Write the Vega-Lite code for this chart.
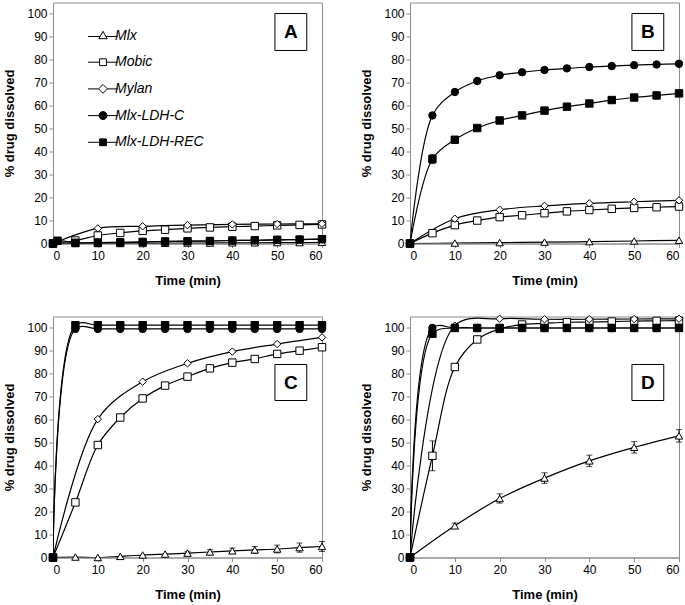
{
"$schema": "https://vega.github.io/schema/vega-lite/v6.json",
"padding": {"left": 3, "top": 1.5, "right": 2, "bottom": 2},
"background": "white",
"config": {
  "font": "Liberation Sans",
  "view": {"stroke": "#8c8c8c", "strokeWidth": 1},
  "axis": {"grid": false, "labelOverlap": false, "domainColor": "#8c8c8c", "tickColor": "#8c8c8c", "tickSize": 4, "labelFont": "Liberation Sans", "labelFontSize": 12, "labelColor": "#000", "titleFont": "Liberation Sans", "titleFontSize": 13, "titleFontWeight": "bold", "titleColor": "#000"}
},
"data": {"values": [
{"p":"A","s":"Mlx","t":0,"v":0},{"p":"A","s":"Mlx","t":5,"v":0},{"p":"A","s":"Mlx","t":10,"v":0},{"p":"A","s":"Mlx","t":15,"v":0},{"p":"A","s":"Mlx","t":20,"v":0},{"p":"A","s":"Mlx","t":25,"v":0.1},{"p":"A","s":"Mlx","t":30,"v":0.2},{"p":"A","s":"Mlx","t":35,"v":0.2},{"p":"A","s":"Mlx","t":40,"v":0.3},{"p":"A","s":"Mlx","t":45,"v":0.3},{"p":"A","s":"Mlx","t":50,"v":0.4},{"p":"A","s":"Mlx","t":55,"v":0.4},{"p":"A","s":"Mlx","t":60,"v":0.5},
{"p":"A","s":"Mobic","t":0,"v":0},{"p":"A","s":"Mobic","t":5,"v":1.3},{"p":"A","s":"Mobic","t":10,"v":3.5},{"p":"A","s":"Mobic","t":15,"v":4.6},{"p":"A","s":"Mobic","t":20,"v":5.5},{"p":"A","s":"Mobic","t":25,"v":6},{"p":"A","s":"Mobic","t":30,"v":6.6},{"p":"A","s":"Mobic","t":35,"v":7},{"p":"A","s":"Mobic","t":40,"v":7.3},{"p":"A","s":"Mobic","t":45,"v":7.6},{"p":"A","s":"Mobic","t":50,"v":7.9},{"p":"A","s":"Mobic","t":55,"v":8.1},{"p":"A","s":"Mobic","t":60,"v":8.3},
{"p":"A","s":"Mylan","t":0,"v":0},{"p":"A","s":"Mylan","t":10,"v":6.6},{"p":"A","s":"Mylan","t":20,"v":7.5},{"p":"A","s":"Mylan","t":30,"v":8},{"p":"A","s":"Mylan","t":40,"v":8.3},{"p":"A","s":"Mylan","t":50,"v":8.5},{"p":"A","s":"Mylan","t":60,"v":8.6},
{"p":"A","s":"Mlx-LDH-REC","t":0,"v":0},{"p":"A","s":"Mlx-LDH-REC","t":1,"v":1.2},{"p":"A","s":"Mlx-LDH-REC","t":5,"v":0.3},{"p":"A","s":"Mlx-LDH-REC","t":10,"v":0.4},{"p":"A","s":"Mlx-LDH-REC","t":15,"v":0.5},{"p":"A","s":"Mlx-LDH-REC","t":20,"v":0.7},{"p":"A","s":"Mlx-LDH-REC","t":25,"v":0.9},{"p":"A","s":"Mlx-LDH-REC","t":30,"v":1},{"p":"A","s":"Mlx-LDH-REC","t":35,"v":1.1},{"p":"A","s":"Mlx-LDH-REC","t":40,"v":1.3},{"p":"A","s":"Mlx-LDH-REC","t":45,"v":1.4},{"p":"A","s":"Mlx-LDH-REC","t":50,"v":1.6},{"p":"A","s":"Mlx-LDH-REC","t":55,"v":1.7},{"p":"A","s":"Mlx-LDH-REC","t":60,"v":1.9},
{"p":"A","s":"Mlx-LDH-C","t":0,"v":0},{"p":"A","s":"Mlx-LDH-C","t":5,"v":0.2},{"p":"A","s":"Mlx-LDH-C","t":10,"v":0.3},{"p":"A","s":"Mlx-LDH-C","t":15,"v":0.4},{"p":"A","s":"Mlx-LDH-C","t":20,"v":0.6},{"p":"A","s":"Mlx-LDH-C","t":25,"v":0.8},{"p":"A","s":"Mlx-LDH-C","t":30,"v":1},{"p":"A","s":"Mlx-LDH-C","t":35,"v":1.1},{"p":"A","s":"Mlx-LDH-C","t":40,"v":1.3},{"p":"A","s":"Mlx-LDH-C","t":45,"v":1.4},{"p":"A","s":"Mlx-LDH-C","t":50,"v":1.6},{"p":"A","s":"Mlx-LDH-C","t":55,"v":1.7},{"p":"A","s":"Mlx-LDH-C","t":60,"v":1.9},

{"p":"B","s":"Mlx","t":0,"v":0},{"p":"B","s":"Mlx","t":10,"v":0.2},{"p":"B","s":"Mlx","t":20,"v":0.4},{"p":"B","s":"Mlx","t":30,"v":0.6},{"p":"B","s":"Mlx","t":40,"v":0.8},{"p":"B","s":"Mlx","t":50,"v":1.1},{"p":"B","s":"Mlx","t":60,"v":1.4},
{"p":"B","s":"Mobic","t":0,"v":0},{"p":"B","s":"Mobic","t":5,"v":4.5},{"p":"B","s":"Mobic","t":10,"v":8},{"p":"B","s":"Mobic","t":15,"v":10},{"p":"B","s":"Mobic","t":20,"v":11.5},{"p":"B","s":"Mobic","t":25,"v":12.3},{"p":"B","s":"Mobic","t":30,"v":13.2},{"p":"B","s":"Mobic","t":35,"v":14},{"p":"B","s":"Mobic","t":40,"v":14.6},{"p":"B","s":"Mobic","t":45,"v":15.1},{"p":"B","s":"Mobic","t":50,"v":15.5},{"p":"B","s":"Mobic","t":55,"v":15.8},{"p":"B","s":"Mobic","t":60,"v":16.1},
{"p":"B","s":"Mylan","t":0,"v":0},{"p":"B","s":"Mylan","t":10,"v":10.8},{"p":"B","s":"Mylan","t":20,"v":14.7},{"p":"B","s":"Mylan","t":30,"v":16.4},{"p":"B","s":"Mylan","t":40,"v":17.5},{"p":"B","s":"Mylan","t":50,"v":18.2},{"p":"B","s":"Mylan","t":60,"v":18.8},
{"p":"B","s":"Mlx-LDH-REC","t":0,"v":0},{"p":"B","s":"Mlx-LDH-REC","t":5,"v":36.8,"e":2},{"p":"B","s":"Mlx-LDH-REC","t":10,"v":45.2},{"p":"B","s":"Mlx-LDH-REC","t":15,"v":50.3},{"p":"B","s":"Mlx-LDH-REC","t":20,"v":53.6},{"p":"B","s":"Mlx-LDH-REC","t":25,"v":55.8},{"p":"B","s":"Mlx-LDH-REC","t":30,"v":57.9},{"p":"B","s":"Mlx-LDH-REC","t":35,"v":59.6},{"p":"B","s":"Mlx-LDH-REC","t":40,"v":61},{"p":"B","s":"Mlx-LDH-REC","t":45,"v":62.5},{"p":"B","s":"Mlx-LDH-REC","t":50,"v":63.6},{"p":"B","s":"Mlx-LDH-REC","t":55,"v":64.5},{"p":"B","s":"Mlx-LDH-REC","t":60,"v":65.4},
{"p":"B","s":"Mlx-LDH-C","t":0,"v":0},{"p":"B","s":"Mlx-LDH-C","t":5,"v":55.8},{"p":"B","s":"Mlx-LDH-C","t":10,"v":66},{"p":"B","s":"Mlx-LDH-C","t":15,"v":70.8},{"p":"B","s":"Mlx-LDH-C","t":20,"v":73.3},{"p":"B","s":"Mlx-LDH-C","t":25,"v":74.6},{"p":"B","s":"Mlx-LDH-C","t":30,"v":75.6},{"p":"B","s":"Mlx-LDH-C","t":35,"v":76.3},{"p":"B","s":"Mlx-LDH-C","t":40,"v":76.9},{"p":"B","s":"Mlx-LDH-C","t":45,"v":77.3},{"p":"B","s":"Mlx-LDH-C","t":50,"v":77.7},{"p":"B","s":"Mlx-LDH-C","t":55,"v":78},{"p":"B","s":"Mlx-LDH-C","t":60,"v":78.3},

{"p":"C","s":"Mlx","t":0,"v":0},{"p":"C","s":"Mlx","t":5,"v":0.2},{"p":"C","s":"Mlx","t":10,"v":0},{"p":"C","s":"Mlx","t":15,"v":0.5},{"p":"C","s":"Mlx","t":20,"v":1.1},{"p":"C","s":"Mlx","t":25,"v":1.5},{"p":"C","s":"Mlx","t":30,"v":1.9,"e":0.8},{"p":"C","s":"Mlx","t":35,"v":2.4,"e":1},{"p":"C","s":"Mlx","t":40,"v":2.9,"e":1.2},{"p":"C","s":"Mlx","t":45,"v":3.3,"e":1.5},{"p":"C","s":"Mlx","t":50,"v":3.7,"e":1.7},{"p":"C","s":"Mlx","t":55,"v":4.3,"e":2},{"p":"C","s":"Mlx","t":60,"v":4.8,"e":2.2},
{"p":"C","s":"Mobic","t":0,"v":0},{"p":"C","s":"Mobic","t":5,"v":24},{"p":"C","s":"Mobic","t":10,"v":49},{"p":"C","s":"Mobic","t":15,"v":61},{"p":"C","s":"Mobic","t":20,"v":69.3},{"p":"C","s":"Mobic","t":25,"v":74.9},{"p":"C","s":"Mobic","t":30,"v":78.8},{"p":"C","s":"Mobic","t":35,"v":82.4},{"p":"C","s":"Mobic","t":40,"v":84.9},{"p":"C","s":"Mobic","t":45,"v":86.5},{"p":"C","s":"Mobic","t":50,"v":88.7},{"p":"C","s":"Mobic","t":55,"v":90.1},{"p":"C","s":"Mobic","t":60,"v":91.6},
{"p":"C","s":"Mylan","t":0,"v":0},{"p":"C","s":"Mylan","t":10,"v":60.3},{"p":"C","s":"Mylan","t":20,"v":76.6},{"p":"C","s":"Mylan","t":30,"v":84.6},{"p":"C","s":"Mylan","t":40,"v":89.7},{"p":"C","s":"Mylan","t":50,"v":93},{"p":"C","s":"Mylan","t":60,"v":95.9},
{"p":"C","s":"Mlx-LDH-REC","t":0,"v":0},{"p":"C","s":"Mlx-LDH-REC","t":5,"v":101.2},{"p":"C","s":"Mlx-LDH-REC","t":10,"v":101.2},{"p":"C","s":"Mlx-LDH-REC","t":15,"v":101.2},{"p":"C","s":"Mlx-LDH-REC","t":20,"v":101.2},{"p":"C","s":"Mlx-LDH-REC","t":25,"v":101.2},{"p":"C","s":"Mlx-LDH-REC","t":30,"v":101.2},{"p":"C","s":"Mlx-LDH-REC","t":35,"v":101.2},{"p":"C","s":"Mlx-LDH-REC","t":40,"v":101.2},{"p":"C","s":"Mlx-LDH-REC","t":45,"v":101.2},{"p":"C","s":"Mlx-LDH-REC","t":50,"v":101.2},{"p":"C","s":"Mlx-LDH-REC","t":55,"v":101.2},{"p":"C","s":"Mlx-LDH-REC","t":60,"v":101.2},
{"p":"C","s":"Mlx-LDH-C","t":0,"v":0},{"p":"C","s":"Mlx-LDH-C","t":5,"v":99.6},{"p":"C","s":"Mlx-LDH-C","t":10,"v":99.6},{"p":"C","s":"Mlx-LDH-C","t":15,"v":99.6},{"p":"C","s":"Mlx-LDH-C","t":20,"v":99.6},{"p":"C","s":"Mlx-LDH-C","t":25,"v":99.6},{"p":"C","s":"Mlx-LDH-C","t":30,"v":99.6},{"p":"C","s":"Mlx-LDH-C","t":35,"v":99.6},{"p":"C","s":"Mlx-LDH-C","t":40,"v":99.6},{"p":"C","s":"Mlx-LDH-C","t":45,"v":99.6},{"p":"C","s":"Mlx-LDH-C","t":50,"v":99.6},{"p":"C","s":"Mlx-LDH-C","t":55,"v":99.6},{"p":"C","s":"Mlx-LDH-C","t":60,"v":99.6},

{"p":"D","s":"Mlx","t":0,"v":0},{"p":"D","s":"Mlx","t":10,"v":13.8,"e":1.2},{"p":"D","s":"Mlx","t":20,"v":25.7,"e":2},{"p":"D","s":"Mlx","t":30,"v":34.6,"e":2.3},{"p":"D","s":"Mlx","t":40,"v":42.1,"e":2.5},{"p":"D","s":"Mlx","t":50,"v":48,"e":2.5},{"p":"D","s":"Mlx","t":60,"v":53,"e":2.7},
{"p":"D","s":"Mobic","t":0,"v":0},{"p":"D","s":"Mobic","t":5,"v":44.3,"e":6.5},{"p":"D","s":"Mobic","t":10,"v":83},{"p":"D","s":"Mobic","t":15,"v":95},{"p":"D","s":"Mobic","t":20,"v":99.6},{"p":"D","s":"Mobic","t":25,"v":101.5},{"p":"D","s":"Mobic","t":30,"v":102},{"p":"D","s":"Mobic","t":35,"v":102.5},{"p":"D","s":"Mobic","t":40,"v":102.6},{"p":"D","s":"Mobic","t":45,"v":102.8},{"p":"D","s":"Mobic","t":50,"v":103},{"p":"D","s":"Mobic","t":55,"v":103.1},{"p":"D","s":"Mobic","t":60,"v":103.2},
{"p":"D","s":"Mylan","t":0,"v":0},{"p":"D","s":"Mylan","t":10,"v":101},{"p":"D","s":"Mylan","t":20,"v":104},{"p":"D","s":"Mylan","t":30,"v":103.8},{"p":"D","s":"Mylan","t":40,"v":103.8},{"p":"D","s":"Mylan","t":50,"v":103.9},{"p":"D","s":"Mylan","t":60,"v":104},
{"p":"D","s":"Mlx-LDH-REC","t":0,"v":0},{"p":"D","s":"Mlx-LDH-REC","t":5,"v":97.5},{"p":"D","s":"Mlx-LDH-REC","t":10,"v":100},{"p":"D","s":"Mlx-LDH-REC","t":15,"v":100},{"p":"D","s":"Mlx-LDH-REC","t":20,"v":100},{"p":"D","s":"Mlx-LDH-REC","t":25,"v":100},{"p":"D","s":"Mlx-LDH-REC","t":30,"v":100},{"p":"D","s":"Mlx-LDH-REC","t":35,"v":100},{"p":"D","s":"Mlx-LDH-REC","t":40,"v":100},{"p":"D","s":"Mlx-LDH-REC","t":45,"v":100},{"p":"D","s":"Mlx-LDH-REC","t":50,"v":100},{"p":"D","s":"Mlx-LDH-REC","t":55,"v":100},{"p":"D","s":"Mlx-LDH-REC","t":60,"v":100},
{"p":"D","s":"Mlx-LDH-C","t":0,"v":0},{"p":"D","s":"Mlx-LDH-C","t":5,"v":100},{"p":"D","s":"Mlx-LDH-C","t":10,"v":100},{"p":"D","s":"Mlx-LDH-C","t":15,"v":100},{"p":"D","s":"Mlx-LDH-C","t":20,"v":100},{"p":"D","s":"Mlx-LDH-C","t":25,"v":100},{"p":"D","s":"Mlx-LDH-C","t":30,"v":100},{"p":"D","s":"Mlx-LDH-C","t":35,"v":100},{"p":"D","s":"Mlx-LDH-C","t":40,"v":100},{"p":"D","s":"Mlx-LDH-C","t":45,"v":100},{"p":"D","s":"Mlx-LDH-C","t":50,"v":100},{"p":"D","s":"Mlx-LDH-C","t":55,"v":100},{"p":"D","s":"Mlx-LDH-C","t":60,"v":100}
]},
"spacing": 24,
"resolve": {"scale": {"shape": "independent", "fill": "independent", "stroke": "independent"}, "legend": {"shape": "independent", "fill": "independent", "stroke": "independent"}},
"vconcat": [
{"hconcat": [
 {"width": 269, "height": 241,
  "resolve": {"scale": {"shape": "independent", "fill": "independent", "stroke": "independent"}, "legend": {"shape": "independent", "fill": "independent", "stroke": "independent"}},
  "layer": [
   {"transform": [{"filter": "datum.p === 'A'"}],
    "mark": {"type": "line", "interpolate": "catmull-rom", "color": "#000", "strokeWidth": 1.2, "clip": true},
    "encoding": {
     "x": {"field": "t", "type": "quantitative", "scale": {"domain": [0, 60], "nice": false}, "axis": {"values": [0,10,20,30,40,50,60], "tickCount": 7, "labelOverlap": false, "title": "Time (min)", "labelPadding": 3, "titlePadding": 13}},
     "y": {"field": "v", "type": "quantitative", "scale": {"domain": [0, 105], "nice": false}, "axis": {"values": [0,10,20,30,40,50,60,70,80,90,100], "tickCount": 11, "labelOverlap": false, "title": "% drug dissolved", "labelPadding": 2, "titlePadding": 10}},
     "detail": {"field": "s"}}},
   {"transform": [{"filter": "datum.p === 'A'"}],
    "mark": {"type": "point", "size": 55, "stroke": "#000", "strokeWidth": 1, "opacity": 1},
    "encoding": {
     "x": {"field": "t", "type": "quantitative"},
     "y": {"field": "v", "type": "quantitative"},
     "shape": {"field": "s", "type": "nominal", "scale": {"domain": ["Mlx","Mobic","Mylan","Mlx-LDH-C","Mlx-LDH-REC"], "range": ["triangle-up","square","diamond","circle","square"]}, "legend": null},
     "fill": {"field": "s", "type": "nominal", "scale": {"domain": ["Mlx","Mobic","Mylan","Mlx-LDH-C","Mlx-LDH-REC"], "range": ["#fff","#fff","#fff","#000","#000"]}, "legend": null}}},
   {"transform": [{"filter": "datum.p === 'A'"}],
    "mark": {"type": "point", "size": 0, "strokeWidth": 1, "opacity": 1},
    "encoding": {
     "x": {"field": "t", "type": "quantitative"},
     "y": {"field": "v", "type": "quantitative"},
     "shape": {"field": "s", "type": "nominal", "scale": {"domain": ["Mlx","Mobic","Mylan","Mlx-LDH-C","Mlx-LDH-REC"], "range": ["M-3.75,0.25H-0.74M0.74,0.25H3.75M0,-1.05L1.05,0.8H-1.05Z","M-3.75,0H-0.85M0.85,0H3.75M-0.85,-0.85H0.85V0.85H-0.85Z","M-3.75,0H-1.1M1.1,0H3.75M0,-1.1L1.1,0L0,1.1L-1.1,0Z","M-3.75,0H-1M1,0H3.75M-1,0A1,1,0,1,0,1,0A1,1,0,1,0,-1,0Z","M-3.75,0H-0.85M0.85,0H3.75M-0.85,-0.85H0.85V0.85H-0.85Z"]},
      "legend": {"title": null, "orient": "none", "legendX": 43, "legendY": 26, "padding": 0, "labelFont": "Liberation Sans", "labelFontSize": 14, "labelFontStyle": "italic", "labelColor": "#000", "symbolSize": 64, "symbolStrokeWidth": 1, "symbolOpacity": 1, "labelOffset": 5, "rowPadding": 12.7}},
     "fill": {"field": "s", "type": "nominal", "scale": {"domain": ["Mlx","Mobic","Mylan","Mlx-LDH-C","Mlx-LDH-REC"], "range": ["#fff","#fff","#fff","#000","#000"]},
      "legend": {"title": null, "orient": "none", "legendX": 43, "legendY": 26, "padding": 0, "labelFont": "Liberation Sans", "labelFontSize": 14, "labelFontStyle": "italic", "labelColor": "#000", "symbolSize": 64, "symbolStrokeWidth": 1, "symbolOpacity": 1, "labelOffset": 5, "rowPadding": 12.7}},
     "stroke": {"field": "s", "type": "nominal", "scale": {"domain": ["Mlx","Mobic","Mylan","Mlx-LDH-C","Mlx-LDH-REC"], "range": ["#000","#000","#000","#000","#000"]},
      "legend": {"title": null, "orient": "none", "legendX": 43, "legendY": 26, "padding": 0, "labelFont": "Liberation Sans", "labelFontSize": 14, "labelFontStyle": "italic", "labelColor": "#000", "symbolSize": 64, "symbolStrokeWidth": 1, "symbolOpacity": 1, "labelOffset": 5, "rowPadding": 12.7}}}},
   {"data": {"values": [{"lab": "A"}]},
    "mark": {"type": "rect", "fill": "#fff", "stroke": "#000", "strokeWidth": 1},
    "encoding": {"x": {"datum": 49.5, "type": "quantitative"}, "x2": {"datum": 56.6}, "y": {"datum": 100.2, "type": "quantitative"}, "y2": {"datum": 84.1}}},
   {"data": {"values": [{"lab": "A"}]},
    "mark": {"type": "text", "font": "Liberation Sans", "fontSize": 19, "fontWeight": "bold", "color": "#000", "baseline": "middle", "align": "center"},
    "encoding": {"x": {"datum": 53.05, "type": "quantitative"}, "y": {"datum": 92.2, "type": "quantitative"}, "text": {"field": "lab"}}}
  ]},
 {"width": 269, "height": 241,
  "layer": [
   {"transform": [{"filter": "datum.p === 'B'"}],
    "mark": {"type": "line", "interpolate": "catmull-rom", "color": "#000", "strokeWidth": 1.2, "clip": true},
    "encoding": {
     "x": {"field": "t", "type": "quantitative", "scale": {"domain": [0, 60], "nice": false}, "axis": {"values": [0,10,20,30,40,50,60], "tickCount": 7, "labelOverlap": false, "title": "Time (min)", "labelPadding": 3, "titlePadding": 13}},
     "y": {"field": "v", "type": "quantitative", "scale": {"domain": [0, 105], "nice": false}, "axis": {"values": [0,10,20,30,40,50,60,70,80,90,100], "tickCount": 11, "labelOverlap": false, "title": "% drug dissolved", "labelPadding": 2, "titlePadding": 10}},
     "detail": {"field": "s"}}},
   {"transform": [{"filter": "datum.p === 'B' && datum.e > 0"}],
    "mark": {"type": "errorbar", "ticks": {"size": 6, "color": "#000"}, "rule": {"color": "#000"}},
    "encoding": {"x": {"field": "t", "type": "quantitative", "title": "Time (min)"}, "y": {"field": "v", "type": "quantitative", "title": "% drug dissolved"}, "yError": {"field": "e"}}},
   {"transform": [{"filter": "datum.p === 'B'"}],
    "mark": {"type": "point", "size": 55, "stroke": "#000", "strokeWidth": 1, "opacity": 1},
    "encoding": {
     "x": {"field": "t", "type": "quantitative"},
     "y": {"field": "v", "type": "quantitative"},
     "shape": {"field": "s", "type": "nominal", "scale": {"domain": ["Mlx","Mobic","Mylan","Mlx-LDH-C","Mlx-LDH-REC"], "range": ["triangle-up","square","diamond","circle","square"]}, "legend": null},
     "fill": {"field": "s", "type": "nominal", "scale": {"domain": ["Mlx","Mobic","Mylan","Mlx-LDH-C","Mlx-LDH-REC"], "range": ["#fff","#fff","#fff","#000","#000"]}, "legend": null}}},
   {"data": {"values": [{"lab": "B"}]},
    "mark": {"type": "rect", "fill": "#fff", "stroke": "#000", "strokeWidth": 1},
    "encoding": {"x": {"datum": 49.5, "type": "quantitative"}, "x2": {"datum": 56.6}, "y": {"datum": 100.2, "type": "quantitative"}, "y2": {"datum": 84.1}}},
   {"data": {"values": [{"lab": "B"}]},
    "mark": {"type": "text", "font": "Liberation Sans", "fontSize": 19, "fontWeight": "bold", "color": "#000", "baseline": "middle", "align": "center"},
    "encoding": {"x": {"datum": 53.05, "type": "quantitative"}, "y": {"datum": 92.2, "type": "quantitative"}, "text": {"field": "lab"}}}
  ]}
 ],
 "spacing": 88, "bounds": "flush",
 "resolve": {"scale": {"shape": "independent", "fill": "independent", "stroke": "independent"}, "legend": {"shape": "independent", "fill": "independent", "stroke": "independent"}}},
{"hconcat": [
 {"width": 269, "height": 241,
  "layer": [
   {"transform": [{"filter": "datum.p === 'C'"}],
    "mark": {"type": "line", "interpolate": "catmull-rom", "color": "#000", "strokeWidth": 1.2, "clip": true},
    "encoding": {
     "x": {"field": "t", "type": "quantitative", "scale": {"domain": [0, 60], "nice": false}, "axis": {"values": [0,10,20,30,40,50,60], "tickCount": 7, "labelOverlap": false, "title": "Time (min)", "labelPadding": 3, "titlePadding": 13}},
     "y": {"field": "v", "type": "quantitative", "scale": {"domain": [0, 105], "nice": false}, "axis": {"values": [0,10,20,30,40,50,60,70,80,90,100], "tickCount": 11, "labelOverlap": false, "title": "% drug dissolved", "labelPadding": 2, "titlePadding": 10}},
     "detail": {"field": "s"}}},
   {"transform": [{"filter": "datum.p === 'C' && datum.e > 0"}],
    "mark": {"type": "errorbar", "ticks": {"size": 6, "color": "#000"}, "rule": {"color": "#000"}},
    "encoding": {"x": {"field": "t", "type": "quantitative", "title": "Time (min)"}, "y": {"field": "v", "type": "quantitative", "title": "% drug dissolved"}, "yError": {"field": "e"}}},
   {"transform": [{"filter": "datum.p === 'C'"}],
    "mark": {"type": "point", "size": 55, "stroke": "#000", "strokeWidth": 1, "opacity": 1},
    "encoding": {
     "x": {"field": "t", "type": "quantitative"},
     "y": {"field": "v", "type": "quantitative"},
     "shape": {"field": "s", "type": "nominal", "scale": {"domain": ["Mlx","Mobic","Mylan","Mlx-LDH-C","Mlx-LDH-REC"], "range": ["triangle-up","square","diamond","circle","square"]}, "legend": null},
     "fill": {"field": "s", "type": "nominal", "scale": {"domain": ["Mlx","Mobic","Mylan","Mlx-LDH-C","Mlx-LDH-REC"], "range": ["#fff","#fff","#fff","#000","#000"]}, "legend": null}}},
   {"data": {"values": [{"lab": "C"}]},
    "mark": {"type": "rect", "fill": "#fff", "stroke": "#000", "strokeWidth": 1},
    "encoding": {"x": {"datum": 49.5, "type": "quantitative"}, "x2": {"datum": 56.6}, "y": {"datum": 84.1, "type": "quantitative"}, "y2": {"datum": 68.4}}},
   {"data": {"values": [{"lab": "C"}]},
    "mark": {"type": "text", "font": "Liberation Sans", "fontSize": 19, "fontWeight": "bold", "color": "#000", "baseline": "middle", "align": "center"},
    "encoding": {"x": {"datum": 53.05, "type": "quantitative"}, "y": {"datum": 76.2, "type": "quantitative"}, "text": {"field": "lab"}}}
  ]},
 {"width": 269, "height": 241,
  "layer": [
   {"transform": [{"filter": "datum.p === 'D'"}],
    "mark": {"type": "line", "interpolate": "catmull-rom", "color": "#000", "strokeWidth": 1.2, "clip": true},
    "encoding": {
     "x": {"field": "t", "type": "quantitative", "scale": {"domain": [0, 60], "nice": false}, "axis": {"values": [0,10,20,30,40,50,60], "tickCount": 7, "labelOverlap": false, "title": "Time (min)", "labelPadding": 3, "titlePadding": 13}},
     "y": {"field": "v", "type": "quantitative", "scale": {"domain": [0, 105], "nice": false}, "axis": {"values": [0,10,20,30,40,50,60,70,80,90,100], "tickCount": 11, "labelOverlap": false, "title": "% drug dissolved", "labelPadding": 2, "titlePadding": 10}},
     "detail": {"field": "s"}}},
   {"transform": [{"filter": "datum.p === 'D' && datum.e > 0"}],
    "mark": {"type": "errorbar", "ticks": {"size": 6, "color": "#000"}, "rule": {"color": "#000"}},
    "encoding": {"x": {"field": "t", "type": "quantitative", "title": "Time (min)"}, "y": {"field": "v", "type": "quantitative", "title": "% drug dissolved"}, "yError": {"field": "e"}}},
   {"transform": [{"filter": "datum.p === 'D'"}],
    "mark": {"type": "point", "size": 55, "stroke": "#000", "strokeWidth": 1, "opacity": 1},
    "encoding": {
     "x": {"field": "t", "type": "quantitative"},
     "y": {"field": "v", "type": "quantitative"},
     "shape": {"field": "s", "type": "nominal", "scale": {"domain": ["Mlx","Mobic","Mylan","Mlx-LDH-C","Mlx-LDH-REC"], "range": ["triangle-up","square","diamond","circle","square"]}, "legend": null},
     "fill": {"field": "s", "type": "nominal", "scale": {"domain": ["Mlx","Mobic","Mylan","Mlx-LDH-C","Mlx-LDH-REC"], "range": ["#fff","#fff","#fff","#000","#000"]}, "legend": null}}},
   {"data": {"values": [{"lab": "D"}]},
    "mark": {"type": "rect", "fill": "#fff", "stroke": "#000", "strokeWidth": 1},
    "encoding": {"x": {"datum": 49.5, "type": "quantitative"}, "x2": {"datum": 56.6}, "y": {"datum": 84.1, "type": "quantitative"}, "y2": {"datum": 68.4}}},
   {"data": {"values": [{"lab": "D"}]},
    "mark": {"type": "text", "font": "Liberation Sans", "fontSize": 19, "fontWeight": "bold", "color": "#000", "baseline": "middle", "align": "center"},
    "encoding": {"x": {"datum": 53.05, "type": "quantitative"}, "y": {"datum": 76.2, "type": "quantitative"}, "text": {"field": "lab"}}}
  ]}
 ],
 "spacing": 88, "bounds": "flush",
 "resolve": {"scale": {"shape": "independent", "fill": "independent", "stroke": "independent"}, "legend": {"shape": "independent", "fill": "independent", "stroke": "independent"}}}
]
}
